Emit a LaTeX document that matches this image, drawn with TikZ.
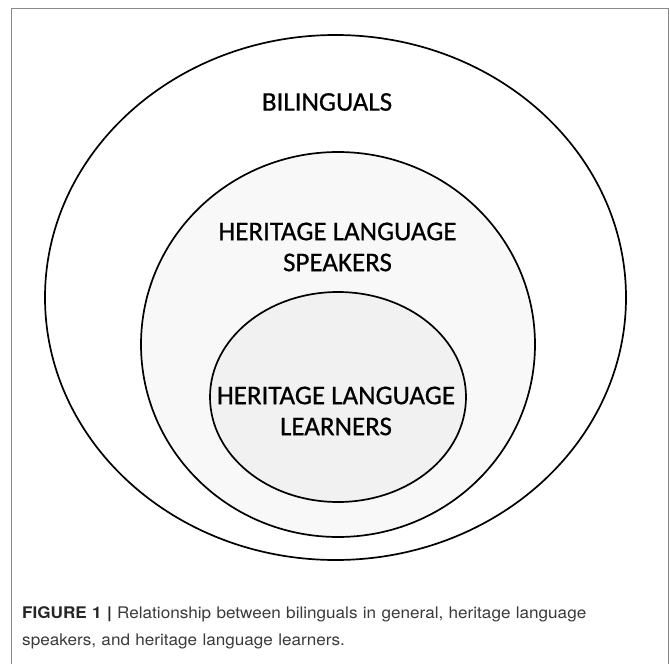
\documentclass[tikz,border=0pt]{standalone}
\usepackage{fontspec}
\setmainfont{Carlito}
\newfontfamily\capfont[FakeStretch=1.07]{TeX Gyre Heros}
\newfontfamily\labfont[FakeBold=0.6]{Carlito}
\usetikzlibrary{shapes.geometric}
\definecolor{framegray}{HTML}{8A8A8A}
\definecolor{midfill}{HTML}{F8F8F8}
\definecolor{innerfill}{HTML}{F1F1F1}
\definecolor{captext}{HTML}{3A3A3A}
\tikzset{
  ring/.style={ellipse, draw=black, line width=1.7pt, inner sep=0pt},
  label/.style={font=\labfont\fontsize{27}{31}\selectfont, align=center, text=black, inner sep=0pt},
  caption/.style={font=\capfont\fontsize{16}{27}\selectfont, align=left, anchor=north west, inner sep=0pt, text=captext, text width=640pt}
}
\begin{document}
\begin{tikzpicture}[x=1pt,y=-1pt]
\useasboundingbox (0,0) rectangle (670,664);
\fill[white] (0,0) rectangle (670,664);
\begin{scope}
\clip (0,0) rectangle (670,664);
\draw[framegray, line width=1pt] (11,700) -- (11,8) -- (668,8) -- (668,700);
\end{scope}
\node[ring, fill=white, minimum width=581pt, minimum height=525pt] (outer) at (335.5,297.5) {};
\node[ring, fill=midfill, minimum width=394pt, minimum height=385pt] (middle) at (338,344.5) {};
\node[ring, fill=innerfill, minimum width=256pt, minimum height=210pt] (inner) at (338,397) {};
\node[label] (bil) at (327,102) {BILINGUALS};
\node[label] (hls) at (337.5,247) {HERITAGE LANGUAGE\\SPEAKERS};
\node[label] (hll) at (336,411) {HERITAGE LANGUAGE\\LEARNERS};
\node[caption] (cap) at (22,606) {{\bfseries\color{black!85}FIGURE 1 |} Relationship between bilinguals in general, heritage language\\speakers, and heritage language learners.};
\end{tikzpicture}
\end{document}
